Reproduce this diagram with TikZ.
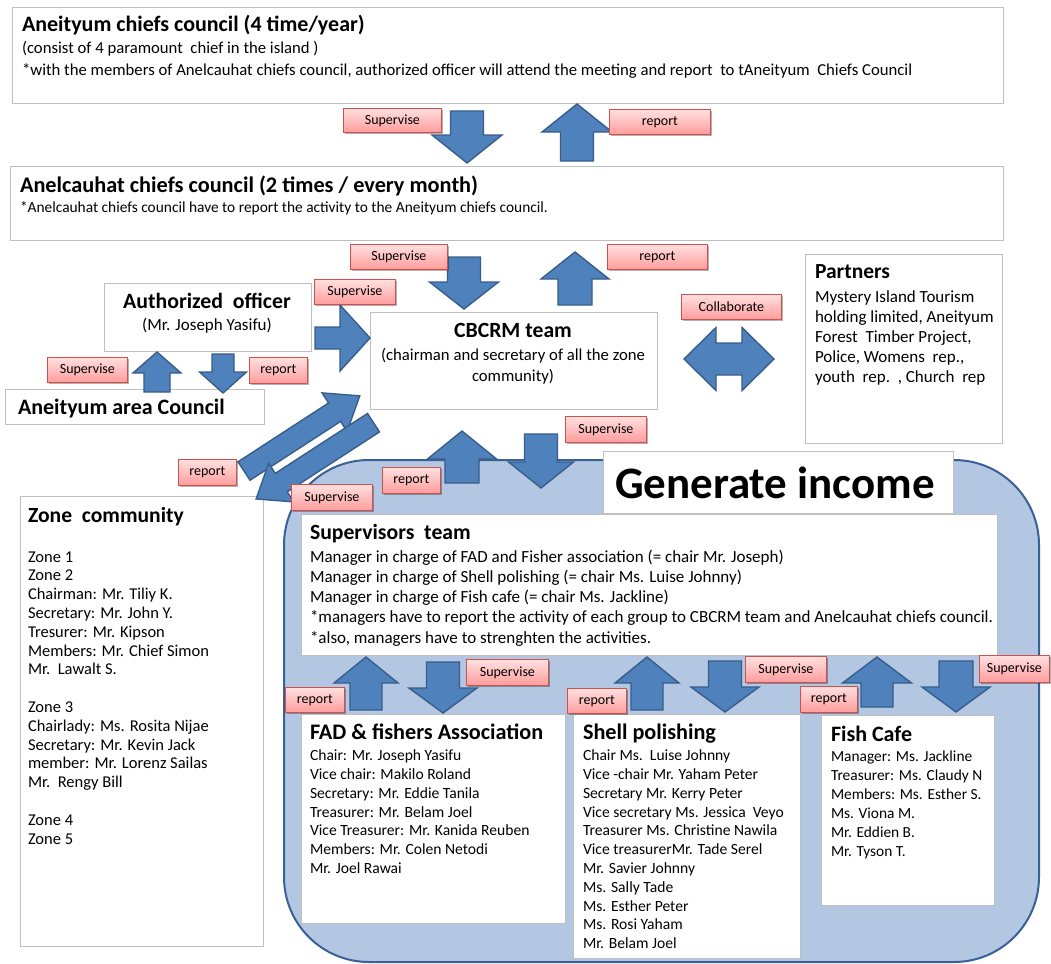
\documentclass[tikz,border=0pt]{standalone}
\usepackage{fontspec}
\setmainfont{Carlito}
\usetikzlibrary{shadows}
\definecolor{boxgray}{HTML}{BFBFBF}
\definecolor{arrfill}{HTML}{4F81BD}
\definecolor{arrline}{HTML}{385D8A}
\definecolor{genfill}{HTML}{B3C6E2}
\definecolor{genline}{HTML}{3A6196}
\definecolor{lbltop}{HTML}{FFE0E0}
\definecolor{lblbot}{HTML}{FF9C9C}
\definecolor{lblline}{HTML}{D0504E}
\newcommand\fs[2]{\fontsize{#1}{#2}\selectfont}
\newcommand\bfs[1]{\fontsize{#1}{#1}\selectfont\bfseries}
\tikzset{
  box/.style={draw=boxgray, line width=0.8pt, fill=white, anchor=north west, inner sep=0pt, outer sep=0pt},
  arr/.style={fill=arrfill, draw=arrline, line width=1.4pt, line join=miter},
  lbl/.style={draw=lblline, line width=0.8pt, top color=lbltop, bottom color=lblbot, inner sep=0pt,
    anchor=north west, font=\fs{14}{16},
    drop shadow={shadow xshift=1.5pt, shadow yshift=-1.5pt, opacity=0.3, fill=black}},
  txt/.style={inner sep=0pt, outer sep=0pt, anchor=base west},
  ml/.style={inner sep=0pt, outer sep=0pt, anchor=north west, align=left},
  genbox/.style={draw=genline, line width=2pt, fill=genfill, rounded corners=85pt, anchor=north west, inner sep=0pt}
}
% box: name, x1, y1, x2, y2
\newcommand\mkbox[6][box]{\node[#1, minimum width={(#5-#3)*1pt}, minimum height={(#6-#4)*1pt}] (#2) at (#3,#4) {};}
% label: name, text, x1, y1, x2, y2
\newcommand\mklbl[6]{\node[lbl, minimum width={(#5-#3)*1pt}, minimum height={(#6-#4)*1pt}] (#1) at (#3,#4) {#2};}
% block arrow: x, y (tail centre), angle, length, shaft, head, head length
\newcommand\barr[7]{\begin{scope}[shift={(#1,#2)}, rotate=#3]
  \draw[arr] (0,-#5/2) -- (#4-#7,-#5/2) -- (#4-#7,-#6/2) -- (#4,0) -- (#4-#7,#6/2) -- (#4-#7,#5/2) -- (0,#5/2) -- cycle;
\end{scope}}
\newcommand\dbarr[7]{\begin{scope}[shift={(#1,#2)}, rotate=#3]
  \draw[arr] (0,0) -- (#7,-#6/2) -- (#7,-#5/2) -- (#4-#7,-#5/2) -- (#4-#7,-#6/2) -- (#4,0) -- (#4-#7,#6/2) -- (#4-#7,#5/2) -- (#7,#5/2) -- (#7,#6/2) -- cycle;
\end{scope}}
\begin{document}
\begin{tikzpicture}[x=1pt, y=-1pt]
\useasboundingbox (0,0) rectangle (1051,963);
\fill[white] (0,0) rectangle (1051,963);
% white boxes (upper part)
\mkbox{top}{12}{7}{1003}{103}
\mkbox{second}{10}{166}{1003}{240}
\mkbox{ao}{104}{283}{311}{351}
\mkbox{aac}{5}{389}{264}{424}
\mkbox{cbcrm}{370}{312}{657}{409}
\mkbox{partners}{805}{254}{1002}{443}
\mkbox{zone}{20}{496}{263}{946}
% generate income area
\mkbox[genbox]{gen}{283}{459}{1038}{961}
\mkbox{geninc}{603}{451}{953}{513}
\mkbox{sup}{301}{514}{997}{655}
\mkbox{fad}{301}{714}{565}{923}
\mkbox{shell}{573}{714}{800}{958}
\mkbox{fish}{821}{715}{994}{905}
% block arrows
\barr{467}{111}{-90}{52}{33}{70}{28}
\barr{577}{161}{90}{57}{33}{70}{28}
\barr{464}{257}{-90}{52}{33}{69}{27}
\barr{575}{305}{90}{53}{34}{68}{27}
\barr{315}{338}{0}{55}{22}{66}{30}
\barr{157}{392}{90}{40}{26}{48}{21}
\barr{223}{354}{-90}{39}{22}{47}{21}
\dbarr{684}{359}{0}{90}{32}{63}{32}
\barr{244}{471}{33}{138}{22}{46}{30}
\barr{373.5}{422.7}{213}{140}{22}{46}{30}
\barr{462}{483}{90}{52}{34}{69}{28}
\barr{541}{434}{-90}{54}{33}{65}{26}
\barr{366}{710}{90}{53}{32}{64}{26}
\barr{443}{662}{-90}{51}{33}{68}{25}
\barr{647}{710}{90}{53}{32}{64}{26}
\barr{725}{661}{-90}{51}{33}{68}{25}
\barr{877}{707}{90}{50}{32}{69}{26}
\barr{956}{661}{-90}{51}{34}{68}{25}
% labels
\mklbl{l1}{Supervise}{343}{108}{441}{132}
\mklbl{l2}{report}{609}{109}{710}{134}
\mklbl{l3}{Supervise}{350}{244}{447}{269}
\mklbl{l4}{report}{607}{244}{707}{269}
\mklbl{l5}{Supervise}{314}{279}{395}{304}
\mklbl{l6}{Supervise}{47}{357}{127}{382}
\mklbl{l7}{report}{249}{357}{307}{383}
\mklbl{l8}{Collaborate}{681}{294}{781}{319}
\mklbl{l9}{report}{178}{459}{236}{485}
\mklbl{l10}{Supervise}{291}{484}{372}{510}
\mklbl{l11}{report}{382}{467}{440}{493}
\mklbl{l12}{Supervise}{565}{416}{646}{442}
\mklbl{l13}{Supervise}{466}{659}{548}{685}
\mklbl{l14}{report}{285}{687}{344}{712}
\mklbl{l15}{Supervise}{745}{656}{826}{682}
\mklbl{l16}{report}{567}{688}{626}{713}
\mklbl{l17}{report}{800}{686}{857}{712}
\mklbl{l18}{Supervise}{979}{655}{1049}{682}
% texts
\node[txt, font=\bfs{22}] (topt) at (22,31.6) {Aneityum chiefs council (4 time/year)};
\node[ml, font=\fs{16.7}{22}] (topb) at (22,54-15.4) {\strut(consist of 4 paramount\ \ chief in the island )\\*with the members of Anelcauhat chiefs council, authorized officer will attend the meeting and report\ \ to tAneityum\ \ Chiefs Council};
\node[txt, font=\bfs{22.3}] (sect) at (20,192.6) {Anelcauhat chiefs council (2 times / every month)};
\node[txt, font=\fs{15.4}{18}] (secb) at (20,212.6) {*Anelcauhat chiefs council have to report the activity to the Aneityum chiefs council.};
\node[txt, font=\bfs{21.8}, anchor=base] (aot) at (207,308.6) {Authorized\ \ officer};
\node[txt, font=\fs{17}{20}, anchor=base] (aob) at (207,330) {(Mr. Joseph Yasifu)};
\node[txt, font=\bfs{22}] (aact) at (18,414.6) {Aneityum area Council};
\node[txt, font=\bfs{21.7}, anchor=base] (cbt) at (513,337.6) {CBCRM team};
\node[ml, align=center, anchor=north, font=\fs{16.7}{21}] (cbb) at (513,360-14.7) {\strut(chairman and secretary of all the zone\\community)};
\node[txt, font=\bfs{21.5}] (pat) at (815,278.5) {Partners};
\node[ml, font=\fs{17}{20.2}] (pab) at (815,302-14.14) {\strut Mystery Island Tourism\\holding limited, Aneityum\\Forest\ \ Timber Project,\\Police, Womens\ \ rep.,\\youth\ \ rep.\ \ , Church\ \ rep};
\node[txt, font=\bfs{21.6}] (zot) at (28,522.6) {Zone\ \ community};
\node[ml, font=\fs{16.5}{18.8}] (zob) at (28,562-13.16) {\strut Zone 1\\Zone 2\\Chairman: Mr. Tiliy K.\\Secretary: Mr. John Y.\\Tresurer: Mr. Kipson\\Members: Mr. Chief Simon\\Mr.\ \ Lawalt S.\\\mbox{}\\Zone 3\\Chairlady: Ms. Rosita Nijae\\Secretary: Mr. Kevin Jack\\member: Mr. Lorenz Sailas\\Mr.\ \ Rengy Bill\\\mbox{}\\Zone 4\\Zone 5};
\node[txt, font=\bfs{45}] (gent) at (615,498) {Generate income};
\node[txt, font=\bfs{21.7}] (supt) at (310,539.6) {Supervisors\ \ team};
\node[ml, font=\fs{17}{20.3}] (supb) at (310,562-14.21) {\strut Manager in charge of FAD and Fisher association (= chair Mr. Joseph)\\Manager in charge of Shell polishing (= chair Ms. Luise Johnny)\\Manager in charge of Fish cafe (= chair Ms. Jackline)\\*managers have to report the activity of each group to CBCRM team and Anelcauhat chiefs council.\\*also, managers have to strenghten the activities.};
\node[txt, font=\bfs{22.2}] (fadt) at (310,739.6) {FAD \& fishers Association};
\node[ml, font=\fs{15.6}{18.8}] (fadb) at (310,760.7-13.16) {\strut Chair: Mr. Joseph Yasifu\\Vice chair: Makilo Roland\\Secretary: Mr. Eddie Tanila\\Treasurer: Mr. Belam Joel\\Vice Treasurer: Mr. Kanida Reuben\\Members: Mr. Colen Netodi\\Mr. Joel Rawai};
\node[txt, font=\bfs{22.2}] (shet) at (583,739.6) {Shell polishing};
\node[ml, font=\fs{15.6}{18.8}] (sheb) at (583,760.7-13.16) {\strut Chair Ms.\ \ Luise Johnny\\Vice -chair Mr. Yaham Peter\\Secretary Mr. Kerry Peter\\Vice secretary Ms. Jessica\ \ Veyo\\Treasurer Ms. Christine Nawila\\Vice treasurerMr. Tade Serel\\Mr. Savier Johnny\\Ms. Sally Tade\\Ms. Esther Peter\\Ms. Rosi Yaham\\Mr. Belam Joel};
\node[txt, font=\bfs{22}] (fist) at (831,741.6) {Fish Cafe};
\node[ml, font=\fs{15.4}{19}] (fisb) at (831,761.6-13.3) {\strut Manager: Ms. Jackline\\Treasurer: Ms. Claudy N\\Members: Ms. Esther S.\\Ms. Viona M.\\Mr. Eddien B.\\Mr. Tyson T.};
\end{tikzpicture}
\end{document}
